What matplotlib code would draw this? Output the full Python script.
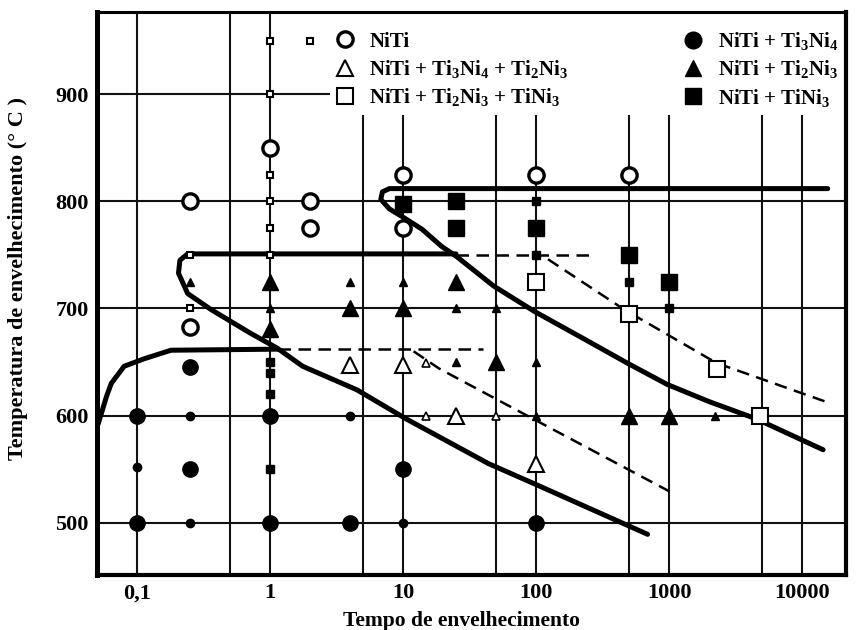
import matplotlib
matplotlib.use('Agg')
import matplotlib.pyplot as plt
from matplotlib.lines import Line2D

plt.rcParams['font.family'] = ['Liberation Serif', 'DejaVu Serif']
plt.rcParams['font.weight'] = 'bold'
plt.rcParams['mathtext.fontset'] = 'custom'
plt.rcParams['mathtext.rm'] = 'Liberation Serif:bold'
plt.rcParams['mathtext.it'] = 'Liberation Serif:bold'
plt.rcParams['mathtext.bf'] = 'Liberation Serif:bold'
plt.rcParams['mathtext.default'] = 'rm'

# --- pontos experimentais (tempo em h, temperatura em C) ---
# NiTi (circulo aberto)
niti_x = [0.25, 0.25, 1, 2, 2, 10, 10, 100, 500]
niti_T = [800, 683, 850, 800, 775, 825, 775, 825, 825]
niti_small_x = [1, 2, 1, 1, 1, 1, 0.25, 1, 0.25]
niti_small_T = [950, 950, 900, 825, 800, 775, 750, 750, 700]

# NiTi + Ti3Ni4 + Ti2Ni3 (triangulo aberto)
tri_open_x = [4, 10, 25, 100]
tri_open_T = [647, 647, 600, 555]
tri_open_small_x = [15, 15, 50]
tri_open_small_T = [649, 600, 600]

# NiTi + Ti2Ni3 + TiNi3 (quadrado aberto)
sq_open_x = [100, 500, 2300, 4800]
sq_open_T = [725, 695, 643, 600]

# NiTi + Ti3Ni4 (circulo cheio)
circ_x = [0.25, 0.1, 1, 0.25, 10, 0.1, 1, 4, 100]
circ_T = [645, 600, 600, 550, 550, 500, 500, 500, 500]
circ_small_x = [0.25, 4, 0.25, 10, 0.1]
circ_small_T = [600, 600, 500, 500, 552]

# NiTi + Ti2Ni3 (triangulo cheio)
tri_x = [1, 25, 4, 10, 1, 50, 500, 1000]
tri_T = [725, 725, 700, 700, 681, 650, 600, 600]
tri_small_x = [0.25, 4, 10, 1, 25, 50, 100, 25, 2200, 100]
tri_small_T = [725, 725, 725, 700, 700, 700, 650, 650, 600, 600]

# NiTi + TiNi3 (quadrado cheio)
sq_x = [10, 25, 25, 100, 500, 1000]
sq_T = [798, 800, 775, 775, 750, 725]
sq_small_x = [100, 100, 500, 1000, 1, 1, 1, 1]
sq_small_T = [800, 750, 725, 700, 550, 650, 640, 620]

# --- curvas (linhas grossas) ---
upper_x = [15600, 7.9, 7.0, 6.8, 7.9, 9.8, 13.9, 19.5, 25, 48, 98, 250, 485, 970, 2000, 4500, 14400]
upper_T = [812, 812, 809, 802, 793, 786, 774, 758, 749, 721, 697, 669, 649, 629, 613, 597, 568]
mid_x = [25, 0.24, 0.21, 0.205, 0.24, 0.36, 0.71, 1.13, 1.76, 4.5, 10.5, 44, 98, 690]
mid_T = [751, 751, 745, 733, 714, 699, 677, 663, 646, 624, 597, 555, 536, 489]
lower_x = [0.051, 0.059, 0.064, 0.08, 0.113, 0.18, 1.15]
lower_T = [592, 618, 630, 646, 653, 661, 662]

# --- linhas tracejadas ---
dash_a_x = [1.15, 40]
dash_a_T = [662, 662]
dash_b_x = [25, 257]
dash_b_T = [750, 750]
dash_c_x = [12, 18.6, 98, 1010]
dash_c_T = [660, 644, 596, 529]
dash_d_x = [123, 460, 2280, 15000]
dash_d_T = [746, 699, 649, 613]

# grade
grid_full_x = [0.1, 0.5, 1]
grid_part_x = [5, 10, 50, 100, 500, 1000, 5000, 10000]
grid_T = [500, 600, 700, 800]

xticks = [0.1, 1, 10, 100, 1000, 10000]
xtick_labels = ['0,1', '1', '10', '100', '1000', '10000']
yticks = [500, 600, 700, 800, 900]

fig = plt.figure(figsize=(8.57, 6.30), dpi=100)
ax = fig.add_axes([97 / 857, 1 - 575 / 630, 749 / 857, 563 / 630])
ax.set_xscale('log')
ax.set_xlim(0.05, 21400)
ax.set_ylim(451, 977)

k = '#111111'
ax.vlines(grid_full_x, 451, 977, color=k, lw=1.5, zorder=1)
ax.vlines(grid_part_x, 451, 881, color=k, lw=1.5, zorder=1)
ax.hlines(grid_T, 0.05, 21400, color=k, lw=1.5, zorder=1)
ax.hlines(900, 0.05, 2.8, color=k, lw=1.5, zorder=1)

for xs, ts in [(upper_x, upper_T), (mid_x, mid_T), (lower_x, lower_T)]:
    ax.plot(xs, ts, color='black', lw=3.6, solid_capstyle='round',
            solid_joinstyle='round', zorder=3)
for xs, ts in [(dash_a_x, dash_a_T), (dash_b_x, dash_b_T),
               (dash_c_x, dash_c_T), (dash_d_x, dash_d_T)]:
    ax.plot(xs, ts, color='black', lw=1.8, dashes=(5, 3), zorder=2)

big = dict(ls='none', zorder=4)
ax.plot(niti_x, niti_T, 'o', ms=11, mfc='white', mec='black', mew=2.4, **big)
ax.plot(niti_small_x, niti_small_T, 's', ms=5, mfc='white', mec='black', mew=1.5, **big)
ax.plot(tri_open_x, tri_open_T, '^', ms=12, mfc='white', mec='black', mew=1.5, **big)
ax.plot(tri_open_small_x, tri_open_small_T, '^', ms=6, mfc='white', mec='black', mew=1.2, **big)
ax.plot(sq_open_x, sq_open_T, 's', ms=12, mfc='white', mec='black', mew=1.5, **big)
ax.plot(circ_x, circ_T, 'o', ms=11, color='black', **big)
ax.plot(circ_small_x, circ_small_T, 'o', ms=6, color='black', **big)
ax.plot(tri_x, tri_T, '^', ms=12, color='black', **big)
ax.plot(tri_small_x, tri_small_T, '^', ms=6, color='black', **big)
ax.plot(sq_x, sq_T, 's', ms=11, color='black', **big)
ax.plot(sq_small_x, sq_small_T, 's', ms=6, color='black', **big)

# legendas
h1 = [Line2D([], [], ls='none', marker='o', ms=11, mfc='white', mec='black', mew=2.4),
      Line2D([], [], ls='none', marker='^', ms=12, mfc='white', mec='black', mew=1.5),
      Line2D([], [], ls='none', marker='s', ms=12, mfc='white', mec='black', mew=1.5)]
l1 = ['NiTi', r'NiTi + Ti$_3$Ni$_4$ + Ti$_2$Ni$_3$', r'NiTi + Ti$_2$Ni$_3$ + TiNi$_3$']
h2 = [Line2D([], [], ls='none', marker='o', ms=12, color='black'),
      Line2D([], [], ls='none', marker='^', ms=12, color='black'),
      Line2D([], [], ls='none', marker='s', ms=12, color='black')]
l2 = [r'NiTi + Ti$_3$Ni$_4$', r'NiTi + Ti$_2$Ni$_3$', r'NiTi + TiNi$_3$']
leg_kw = dict(frameon=False, borderpad=0, borderaxespad=0, handlelength=0.85,
              handletextpad=0.75, labelspacing=0.3, prop={'size': 15, 'weight': 'bold'})
leg1 = ax.legend(h1, l1, loc='upper left', bbox_to_anchor=(0.319, 0.965), **leg_kw)
ax.add_artist(leg1)
ax.legend(h2, l2, loc='upper left', bbox_to_anchor=(0.784, 0.968), **leg_kw)

ax.set_xticks(xticks)
ax.set_xticklabels(xtick_labels)
ax.minorticks_off()
ax.set_yticks(yticks)
ax.tick_params(length=0, labelsize=16, pad=6)
for lab in ax.get_xticklabels() + ax.get_yticklabels():
    lab.set_fontweight('bold')

ax.set_xlabel('Tempo de envelhecimento', fontsize=15.5, fontweight='bold')
ax.set_ylabel('Temperatura de envelhecimento (° C )', fontsize=16, fontweight='bold')
ax.xaxis.set_label_coords(0.486, -0.064)
ax.yaxis.set_label_coords(-0.092, 0.526)

ax.spines['left'].set_linewidth(3.6)
ax.spines['bottom'].set_linewidth(3.0)
ax.spines['top'].set_linewidth(2.2)
ax.spines['right'].set_linewidth(3.0)

fig.savefig('out.png', dpi=100)
